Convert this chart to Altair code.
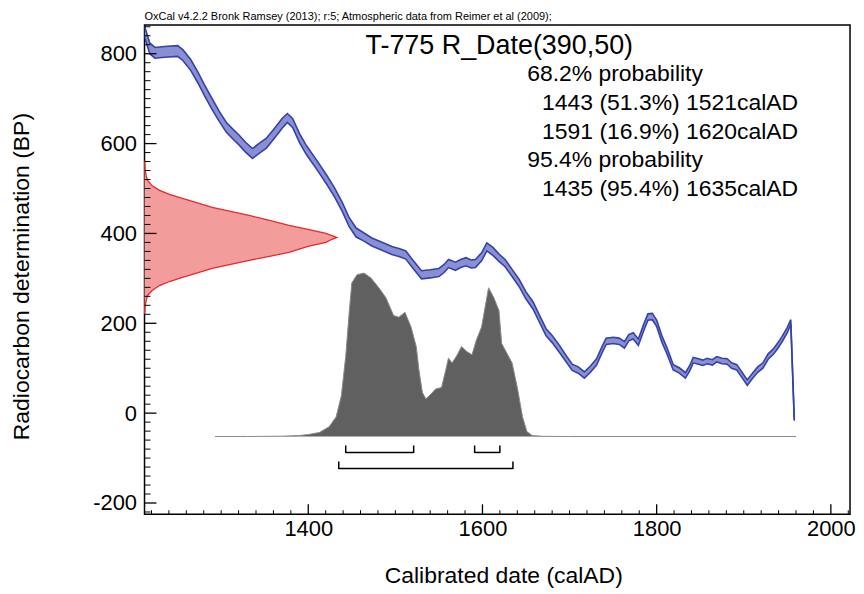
import altair as alt
import pandas as pd

# ---------------- data ----------------
curve_year = [1212, 1218, 1224, 1235, 1250, 1256, 1265, 1273, 1281, 1289,
              1298, 1306, 1314, 1321, 1328, 1336, 1344, 1352, 1362, 1370,
              1376, 1382, 1390, 1398, 1410, 1421, 1430, 1439, 1447, 1455,
              1464, 1473, 1484, 1496, 1505, 1512, 1520, 1530, 1540, 1550,
              1556, 1561, 1569, 1575, 1581, 1587, 1592, 1599, 1605, 1612,
              1619, 1626, 1634, 1642, 1650, 1658, 1665, 1673, 1680, 1688,
              1695, 1703, 1710, 1717, 1724, 1731, 1737, 1742, 1750, 1757,
              1763, 1768, 1773, 1779, 1785, 1790, 1795, 1800, 1806, 1812,
              1819, 1826, 1833, 1838, 1842, 1848, 1853, 1858, 1864, 1869,
              1875, 1881, 1886, 1892, 1898, 1904, 1910, 1916, 1922, 1928,
              1934, 1939, 1944, 1950, 1954, 1958]
curve_bp = [850, 812, 802, 804, 806, 797, 775, 748, 718, 690,
            660, 636, 620, 607, 592, 578, 590, 601, 625, 645,
            657, 646, 612, 585, 552, 520, 492, 459, 425, 402,
            392, 381, 372, 362, 357, 352, 332, 308, 310, 313,
            322, 333, 327, 333, 337, 332, 333, 348, 370, 360,
            346, 334, 312, 290, 262, 240, 212, 180, 165, 144,
            124, 102, 96, 85, 98, 114, 140, 160, 162, 160,
            152, 168, 172, 158, 190, 214, 215, 200, 165, 138,
            102, 95, 84, 100, 118, 115, 112, 116, 113, 120,
            116, 115, 106, 102, 85, 68, 83, 97, 106, 126,
            137, 150, 165, 185, 203, -15]
curve_sig = [12, 12, 12, 12, 12, 12, 12, 12, 12, 12,
             11, 11, 11, 11, 11, 11, 11, 11, 11, 11,
             10, 10, 10, 10, 10, 10, 10, 10, 10, 10,
             9, 9, 9, 9, 9, 9, 9, 9, 9, 9,
             9, 9, 9, 9, 9, 9, 9, 9, 9, 9,
             8, 8, 8, 8, 8, 8, 8, 8, 8, 8,
             7, 7, 7, 7, 7, 7, 7, 7, 7, 7,
             7, 7, 7, 7, 7, 7, 7, 7, 7, 7,
             6, 6, 6, 6, 6, 6, 6, 6, 6, 6,
             6, 6, 6, 6, 6, 6, 6, 6, 6, 6,
             6, 6, 6, 6, 5, 2]

# measured radiocarbon date distribution (red), relative density
red_bp = [562, 550, 540, 528, 518, 506, 496, 487, 478, 468, 458, 449, 440, 429,
          418, 409, 400, 395, 391, 387, 380, 371, 358, 349, 340, 331, 322, 312,
          302, 293, 284, 273, 262, 251, 240, 230, 220]
red_dens = [0, 0.002, 0.004, 0.009, 0.016, 0.040, 0.078, 0.130, 0.197, 0.275,
            0.352, 0.448, 0.544, 0.650, 0.751, 0.850, 0.943, 0.975, 1.0, 0.975,
            0.943, 0.850, 0.751, 0.650, 0.544, 0.448, 0.352, 0.275, 0.197, 0.130,
            0.078, 0.040, 0.016, 0.009, 0.004, 0.002, 0]

# calibrated distribution (grey), relative probability
cal_year = [1293, 1330, 1370, 1390, 1400, 1413, 1424, 1432, 1438, 1443,
            1447, 1450, 1456, 1464, 1472, 1481, 1489, 1498, 1504, 1511,
            1518, 1524, 1527, 1531, 1535, 1541, 1546, 1553, 1558, 1561,
            1565, 1570, 1576, 1582, 1588, 1593, 1599, 1604, 1607, 1613,
            1619, 1622, 1628, 1634, 1640, 1646, 1651, 1657, 1670, 1700, 1960]
cal_prob = [0, 0, 0.002, 0.006, 0.012, 0.025, 0.06, 0.12, 0.25, 0.49,
            0.76, 0.94, 0.99, 1.0, 0.97, 0.91, 0.85, 0.74, 0.73, 0.76,
            0.67, 0.55, 0.41, 0.27, 0.23, 0.26, 0.29, 0.30, 0.41, 0.48,
            0.45, 0.49, 0.55, 0.52, 0.50, 0.59, 0.67, 0.82, 0.91, 0.85,
            0.77, 0.57, 0.51, 0.45, 0.30, 0.12, 0.03, 0.006, 0.001, 0, 0]

# highest probability density ranges
r68_from = [1443, 1591]
r68_to = [1521, 1620]
r95_from = [1435]
r95_to = [1635]

x_labels = [1400, 1600, 1800, 2000]
y_labels = [-200, 0, 200, 400, 600, 800]
x_minor = [v for v in range(1220, 2021, 20) if v not in x_labels]
y_minor = [v for v in range(-220, 861, 20) if v not in y_labels]

header = "OxCal v4.2.2 Bronk Ramsey (2013); r:5; Atmospheric data from Reimer et al (2009);"
title = "T-775 R_Date(390,50)"
info_lines = ["68.2% probability", "1443 (51.3%) 1521calAD", "1591 (16.9%) 1620calAD",
              "95.4% probability", "1435 (95.4%) 1635calAD"]

# ---------------- chart ----------------
W, H = 708, 491
FONT = "Liberation Sans"
XD = [1212, 2022]
YD = [-225, 864]


def xs():
    return alt.Scale(domain=XD, nice=False, zero=False)


def ys():
    return alt.Scale(domain=YD, nice=False, zero=False)


curve_df = pd.DataFrame({"year": curve_year, "bp": curve_bp, "sig": curve_sig})
band = alt.Chart(curve_df).transform_calculate(
    hi="datum.bp + datum.sig", lo="datum.bp - datum.sig")

x_axis = alt.Axis(values=x_labels, labelExpr="'' + datum.value", title="Calibrated date (calAD)",
                  ticks=False, domain=False, grid=False,
                  labelFont=FONT, labelFontSize=22, labelColor="black", labelPadding=4,
                  titleFont=FONT, titleFontSize=23, titleFontWeight="normal",
                  titleColor="black", titleX=360, titleY=62, titleBaseline="middle",
                  titleAlign="center")
y_axis = alt.Axis(values=y_labels, labelExpr="'' + datum.value", title="Radiocarbon determination (BP)",
                  ticks=False, domain=False, grid=False,
                  labelFont=FONT, labelFontSize=22, labelColor="black", labelPadding=8,
                  titleFont=FONT, titleFontSize=23, titleFontWeight="normal",
                  titleColor="black", titleX=-123, titleY=252, titleAngle=-90,
                  titleBaseline="middle", titleAlign="center")

band_area = band.mark_area(color="#8a8ed4", opacity=1, clip=True).encode(
    x=alt.X("year:Q", scale=xs(), axis=x_axis),
    y=alt.Y("hi:Q", scale=ys(), axis=y_axis),
    y2="lo:Q",
)
band_hi = band.mark_line(color="#3443a6", strokeWidth=1.6, clip=True).encode(
    x=alt.X("year:Q", scale=xs(), axis=None),
    y=alt.Y("hi:Q", scale=ys(), axis=None),
)
band_lo = band.mark_line(color="#3443a6", strokeWidth=1.6, clip=True).encode(
    x=alt.X("year:Q", scale=xs(), axis=None),
    y=alt.Y("lo:Q", scale=ys(), axis=None),
)

# red distribution: a closed outline (both ends at density 0 on the left edge),
# drawn as a line ordered by BP and filled
red_df = pd.DataFrame({"bp": red_bp, "dens": red_dens})
red_shape = alt.Chart(red_df).mark_line(
    fill="#f29c9c", stroke="#e62a2a", strokeWidth=1.3, fillOpacity=1,
).encode(
    y=alt.Y("bp:Q", scale=ys(), axis=None),
    x=alt.X("dens:Q", scale=alt.Scale(domain=[0, W / 193], nice=False, zero=False), axis=None),
    order=alt.Order("bp:Q"),
)

grey = alt.Chart(pd.DataFrame({"year": cal_year, "p": cal_prob})).mark_area(
    color="#606060", opacity=1, line={"color": "#8a8a8a", "strokeWidth": 1},
).encode(
    x=alt.X("year:Q", scale=xs(), axis=None),
    y=alt.Y("p:Q", stack=None,
            scale=alt.Scale(domain=[-0.4756, 2.518], nice=False, zero=False), axis=None),
    y2=alt.datum(0),
)

r68 = pd.DataFrame({"a": r68_from, "b": r68_to})
r95 = pd.DataFrame({"a": r95_from, "b": r95_to})
r68_ends = pd.DataFrame({"x": r68_from + r68_to})
r95_ends = pd.DataFrame({"x": r95_from + r95_to})

br68 = alt.Chart(r68).mark_rule(color="black", strokeWidth=1.5).encode(
    x=alt.X("a:Q", scale=xs(), axis=None), x2="b:Q", y=alt.value(429))
br68e = alt.Chart(r68_ends).mark_rule(color="black", strokeWidth=1.5).encode(
    x=alt.X("x:Q", scale=xs(), axis=None), y=alt.value(429.5), y2=alt.value(422))
br95 = alt.Chart(r95).mark_rule(color="black", strokeWidth=1.5).encode(
    x=alt.X("a:Q", scale=xs(), axis=None), x2="b:Q", y=alt.value(445))
br95e = alt.Chart(r95_ends).mark_rule(color="black", strokeWidth=1.5).encode(
    x=alt.X("x:Q", scale=xs(), axis=None), y=alt.value(445.5), y2=alt.value(438))

# inward tick marks
yt_major = alt.Chart(pd.DataFrame({"v": y_labels})).mark_rule(color="black", strokeWidth=1.3).encode(
    y=alt.Y("v:Q", scale=ys(), axis=None), x=alt.value(0), x2=alt.value(12))
yt_minor = alt.Chart(pd.DataFrame({"v": y_minor})).mark_rule(color="black", strokeWidth=1).encode(
    y=alt.Y("v:Q", scale=ys(), axis=None), x=alt.value(0), x2=alt.value(6))
xt_major = alt.Chart(pd.DataFrame({"v": x_labels})).mark_rule(color="black", strokeWidth=1.3).encode(
    x=alt.X("v:Q", scale=xs(), axis=None), y=alt.value(H), y2=alt.value(H - 10))
xt_minor = alt.Chart(pd.DataFrame({"v": x_minor})).mark_rule(color="black", strokeWidth=1).encode(
    x=alt.X("v:Q", scale=xs(), axis=None), y=alt.value(H), y2=alt.value(H - 4))


def text_layer(t, x, y, size, align="left"):
    return alt.Chart(pd.DataFrame({"t": [t]})).mark_text(
        font=FONT, fontSize=size, align=align, baseline="alphabetic", color="black"
    ).encode(text="t:N", x=alt.value(x), y=alt.value(y))


texts = [
    text_layer(header, 0, -5, 11),
    text_layer(title, 356, 29, 27, "center"),
    text_layer(info_lines[0], 384, 56, 23),
    text_layer(info_lines[1], 399, 85, 23),
    text_layer(info_lines[2], 399, 114, 23),
    text_layer(info_lines[3], 384, 143, 23),
    text_layer(info_lines[4], 399, 172, 23),
]

chart = alt.layer(
    band_area, grey, red_shape, band_hi, band_lo,
    br68, br68e, br95, br95e,
    yt_major, yt_minor, xt_major, xt_minor,
    *texts,
).resolve_scale(x="independent", y="independent").properties(
    width=W, height=H,
    autosize=alt.AutoSizeParams(type="none"),
    padding={"left": 137, "top": 16, "right": 6, "bottom": 76},
    background="white",
).configure_view(stroke="black", strokeWidth=1.5)

chart.save("out.html", embed_options={"renderer": "svg", "actions": False})
